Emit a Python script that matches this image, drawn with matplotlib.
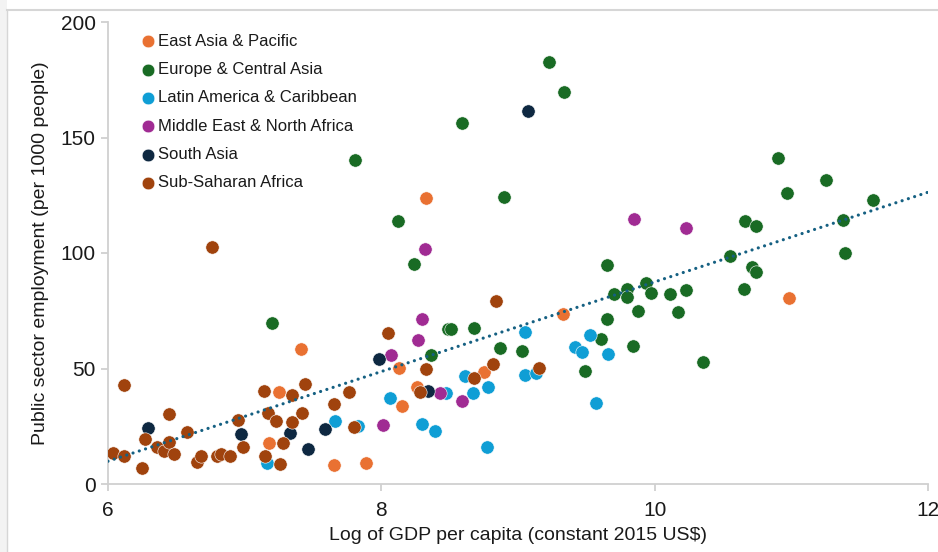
import numpy as np
import matplotlib
matplotlib.use("Agg")
import matplotlib.pyplot as plt
from matplotlib.patches import Rectangle
from matplotlib.lines import Line2D

# Log GDP per capita (x) and public sector employment per 1000 people (y), by region
east_asia_x = [7.25, 7.18, 7.41, 8.13, 8.15, 8.26, 7.65, 7.89, 8.75, 9.33, 8.33, 10.98]
east_asia_y = [40.0, 17.6, 58.4, 50.4, 33.9, 42.1, 8.2, 8.9, 48.6, 73.7, 124.0, 80.7]

europe_x = [7.20, 7.81, 8.12, 8.24, 8.59, 8.90, 9.23, 9.34, 8.36, 8.49, 8.51, 8.68,
            8.87, 9.03, 9.49, 9.61, 9.65, 9.65, 9.70, 9.80, 9.80, 9.84, 9.88, 9.94,
            9.97, 10.11, 10.17, 10.23, 10.35, 10.55, 10.65, 10.66, 10.74, 10.71, 10.74,
            10.90, 10.97, 11.25, 11.38, 11.39, 11.60]
europe_y = [69.7, 140.3, 114.0, 95.1, 156.4, 124.2, 182.8, 169.8, 55.8, 67.0, 67.2, 67.4,
            58.7, 57.7, 49.1, 62.9, 71.4, 94.7, 82.3, 84.5, 80.8, 59.9, 74.9, 86.9,
            82.8, 82.1, 74.3, 83.8, 52.9, 98.7, 84.3, 114.0, 111.7, 94.1, 91.8,
            141.1, 125.8, 131.7, 114.3, 100.0, 123.1]

latam_x = [7.16, 7.66, 7.83, 8.06, 8.30, 8.39, 8.47, 8.61, 8.67, 8.78, 8.77, 9.05,
           9.05, 9.13, 9.42, 9.47, 9.53, 9.66, 9.57]
latam_y = [9.2, 27.4, 25.2, 37.4, 26.0, 23.1, 39.5, 46.8, 39.2, 41.9, 16.2, 65.7,
           47.2, 47.9, 59.4, 57.1, 64.6, 56.4, 34.9]

mena_x = [8.01, 8.07, 8.27, 8.30, 8.32, 8.43, 8.59, 9.85, 10.23]
mena_y = [25.5, 55.8, 62.3, 71.3, 101.6, 39.2, 35.8, 114.6, 110.8]

south_asia_x = [6.29, 6.97, 7.33, 7.46, 7.59, 7.98, 8.34, 9.07]
south_asia_y = [24.4, 21.5, 22.2, 15.0, 23.8, 54.0, 40.3, 161.6]

ssa_x = [6.12, 6.04, 6.12, 6.25, 6.27, 6.45, 6.36, 6.41, 6.45, 6.48, 6.58, 6.65,
         6.68, 6.80, 6.83, 6.89, 6.95, 6.99, 7.14, 7.17, 7.23, 7.15, 7.26, 7.28,
         7.35, 7.44, 7.42, 7.35, 7.65, 7.76, 7.80, 8.05, 8.28, 8.33, 8.68, 8.82,
         8.84, 9.15, 6.76]
ssa_y = [42.9, 13.4, 12.1, 7.0, 19.3, 30.4, 15.9, 14.4, 18.0, 13.0, 22.5, 9.4,
         12.1, 12.1, 12.8, 12.1, 27.7, 15.9, 40.3, 30.6, 27.3, 12.1, 8.5, 17.9,
         38.5, 43.4, 30.6, 26.7, 34.6, 40.0, 24.8, 65.2, 40.0, 49.9, 45.8, 51.8,
         79.1, 50.1, 102.6]

regions = ["East Asia & Pacific", "Europe & Central Asia", "Latin America & Caribbean",
           "Middle East & North Africa", "South Asia", "Sub-Saharan Africa"]
colors = ["#E97132", "#196B24", "#0F9ED5", "#A02B93", "#0E2841", "#A0430D"]
series = [(east_asia_x, east_asia_y), (europe_x, europe_y), (latam_x, latam_y),
          (mena_x, mena_y), (south_asia_x, south_asia_y), (ssa_x, ssa_y)]

x_ticks = [6, 8, 10, 12]
y_ticks = [0, 50, 100, 150, 200]

W, H = 938, 552
fig = plt.figure(figsize=(W / 100, H / 100), dpi=100)
fig.patch.set_facecolor("white")

# window frame on the left and top edges
fig.add_artist(Rectangle((0, 0), 7 / W, 1, transform=fig.transFigure,
                         facecolor="#f3f3f3", edgecolor="none", zorder=0))
fig.add_artist(Line2D([7 / W, 7 / W], [0, 1 - 9.5 / H], transform=fig.transFigure,
                      color="#d6d6d6", lw=1))
fig.add_artist(Line2D([7 / W, 1], [1 - 9.5 / H, 1 - 9.5 / H], transform=fig.transFigure,
                      color="#d6d6d6", lw=1.5))

ax = fig.add_axes([108 / W, (H - 484) / H, (928 - 108) / W, (484 - 22) / H])

for (xs, ys), c, name in zip(series, colors, regions):
    ax.scatter(xs, ys, s=92, color=c, edgecolors="white", linewidths=0.4,
               label=name, zorder=3)

# linear trend across all observations
all_x = np.concatenate([np.asarray(s[0]) for s in series])
all_y = np.concatenate([np.asarray(s[1]) for s in series])
slope, intercept = np.polyfit(all_x, all_y, 1)
tx = np.array([6.0, 12.0])
ax.plot(tx, intercept + slope * tx, color="#156082", lw=2.3,
        linestyle=(0, (0.01, 2.05)), dash_capstyle="round", zorder=4)

ax.set_xlim(6, 12)
ax.set_ylim(0, 200)
ax.set_xticks(x_ticks)
ax.set_yticks(y_ticks)
ax.set_xticklabels([str(t) for t in x_ticks])
ax.set_yticklabels([str(t) for t in y_ticks])

for side in ("top", "right"):
    ax.spines[side].set_visible(False)
for side in ("left", "bottom"):
    ax.spines[side].set_color("#d0d0d0")
    ax.spines[side].set_linewidth(1.3)

ax.tick_params(axis="both", direction="out", length=5, width=1.1, color="#c8c8c8",
               labelsize=15, labelcolor="#1a1a1a", pad=4)
ax.tick_params(axis="x", pad=7.5)
for lab in ax.get_xticklabels() + ax.get_yticklabels():
    lab.set_fontfamily("Liberation Sans")

ax.set_xlabel("Log of GDP per capita (constant 2015 US$)", fontsize=14,
              family="Liberation Sans", color="#1a1a1a", labelpad=5)
ax.set_ylabel("Public sector employment (per 1000 people)", fontsize=14,
              family="Liberation Sans", color="#1a1a1a", labelpad=8)

leg = ax.legend(loc="upper left", bbox_to_anchor=(0.027, 1.0), frameon=False,
                prop={"family": "Liberation Sans", "size": 12},
                handlelength=0.7, handletextpad=0.3, labelspacing=0.8,
                markerscale=0.95, borderaxespad=0.3)
for t in leg.get_texts():
    t.set_color("#1a1a1a")

fig.savefig("out.png", dpi=100, facecolor=fig.get_facecolor())
